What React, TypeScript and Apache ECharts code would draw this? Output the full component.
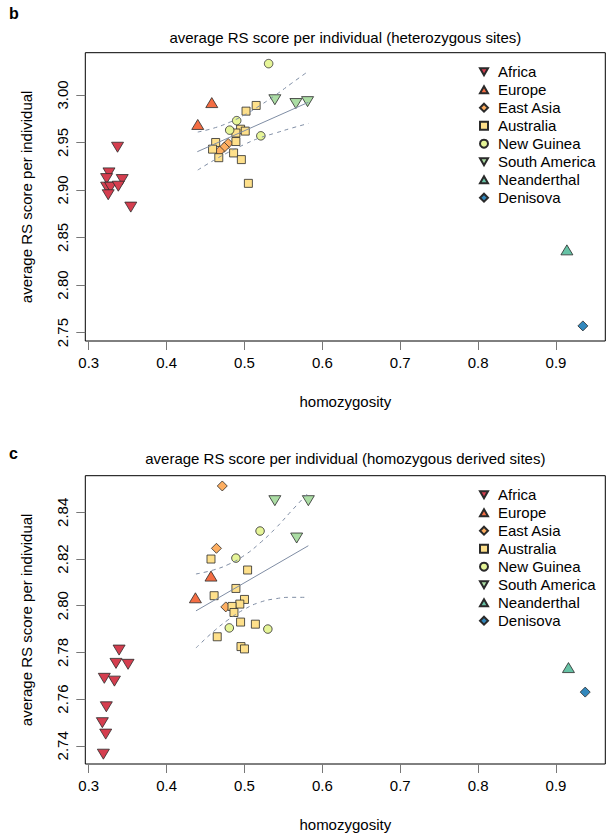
import React, { useEffect, useRef } from 'react';
import * as echarts from 'echarts';

// ---------- data ----------
const groups = ['Africa', 'Europe', 'East Asia', 'Australia', 'New Guinea', 'South America', 'Neanderthal', 'Denisova'];
const xTicks = [0.3, 0.4, 0.5, 0.6, 0.7, 0.8, 0.9];
const hetYTicks = [2.75, 2.8, 2.85, 2.9, 2.95, 3.0];
const homYTicks = [2.74, 2.76, 2.78, 2.8, 2.82, 2.84];

// panel b: heterozygous sites  [homozygosity, average RS score]
const hetAfrica = [[0.337, 2.945], [0.326, 2.918], [0.323, 2.912], [0.343, 2.911], [0.323, 2.903], [0.328, 2.903], [0.338, 2.904], [0.325, 2.895], [0.354, 2.882]];
const hetEurope = [[0.458, 2.992], [0.44, 2.969]];
const hetEastAsia = [[0.479, 2.949], [0.474, 2.945], [0.468, 2.941]];
const hetAustralia = [[0.515, 2.989], [0.502, 2.983], [0.495, 2.964], [0.501, 2.962], [0.489, 2.96], [0.463, 2.95], [0.459, 2.943], [0.489, 2.951], [0.467, 2.934], [0.486, 2.939], [0.496, 2.932], [0.505, 2.907]];
const hetNewGuinea = [[0.531, 3.033], [0.49, 2.973], [0.481, 2.963], [0.521, 2.957]];
const hetSouthAmerica = [[0.539, 2.995], [0.566, 2.991], [0.581, 2.993]];
const hetNeanderthal = [[0.914, 2.837]];
const hetDenisova = [[0.9345, 2.757]];
const hetFit = [[0.4394, 2.9403], [0.582, 2.9923]];
const hetUpper = [[0.44, 2.961], [0.46, 2.965], [0.48, 2.971], [0.5, 2.979], [0.52, 2.989], [0.54, 3.0], [0.56, 3.012], [0.582, 3.025]];
const hetLower = [[0.44, 2.921], [0.46, 2.931], [0.48, 2.94], [0.5, 2.948], [0.52, 2.955], [0.54, 2.96], [0.56, 2.965], [0.582, 2.97]];

// panel c: homozygous derived sites
const homAfrica = [[0.339, 2.781], [0.335, 2.7753], [0.3505, 2.7749], [0.32, 2.7689], [0.333, 2.7677], [0.3226, 2.7567], [0.3175, 2.7499], [0.3218, 2.745], [0.3188, 2.7364]];
const homEurope = [[0.457, 2.8127], [0.437, 2.8034]];
const homEastAsia = [[0.4715, 2.8513], [0.464, 2.8246], [0.476, 2.7995]];
const homAustralia = [[0.457, 2.82], [0.504, 2.8153], [0.489, 2.8074], [0.461, 2.8043], [0.5, 2.8027], [0.494, 2.8007], [0.484, 2.7997], [0.4865, 2.7971], [0.495, 2.793], [0.514, 2.7921], [0.465, 2.7867], [0.4955, 2.7825], [0.5, 2.7815]];
const homNewGuinea = [[0.52, 2.832], [0.489, 2.8204], [0.4805, 2.7905], [0.53, 2.79]];
const homSouthAmerica = [[0.539, 2.845], [0.582, 2.845], [0.567, 2.829]];
const homNeanderthal = [[0.916, 2.7735]];
const homDenisova = [[0.9375, 2.763]];
const homFit = [[0.4377, 2.7978], [0.582, 2.8257]];
const homUpper = [[0.4377, 2.8136], [0.46, 2.8153], [0.48, 2.8178], [0.5, 2.8216], [0.52, 2.8269], [0.54, 2.8332], [0.56, 2.8405], [0.582, 2.8484]];
const homLower = [[0.4377, 2.7819], [0.46, 2.7889], [0.48, 2.7942], [0.5, 2.7985], [0.52, 2.8015], [0.54, 2.803], [0.56, 2.8036], [0.582, 2.8036]];

const hetSets = [hetAfrica, hetEurope, hetEastAsia, hetAustralia, hetNewGuinea, hetSouthAmerica, hetNeanderthal, hetDenisova];
const homSets = [homAfrica, homEurope, homEastAsia, homAustralia, homNewGuinea, homSouthAmerica, homNeanderthal, homDenisova];

// ---------- styles ----------
const colors = ['#D53E4F', '#F46D43', '#FDAE61', '#FEE08B', '#E6F598', '#ABDDA4', '#66C2A5', '#3288BD'];
const DOWN = 'path://M0,0 L20,0 L10,17.32 Z';
const UP = 'path://M10,0 L20,17.32 L0,17.32 Z';
const symbols = [DOWN, UP, 'diamond', 'rect', 'circle', DOWN, UP, 'diamond'];
const sizes: any[] = [[12, 10], [12, 10], [10, 10], [8, 8], [8.5, 8.5], [12, 10], [12, 10], [10, 10]];
const FONT = '"Liberation Sans", Arial, Helvetica, sans-serif';
const lineColor = '#7f8da4';

const GL = 85.3, GW = 520, GH = 288.3;
const TOP1 = 52.7, TOP2 = 475.7;

export default function App() {
  const ref = useRef<HTMLDivElement>(null);
  useEffect(() => {
    if (!ref.current) return;
    const chart = echarts.init(ref.current, undefined, { renderer: 'svg' });

    const xAxis = (gi: number) => ({
      type: 'value', gridIndex: gi, min: 0.2956, max: 0.9633,
      axisLine: { show: false },
      axisTick: { show: true, length: 9, customValues: xTicks, lineStyle: { color: '#777', width: 1 } },
      axisLabel: { customValues: xTicks, fontSize: 15, color: '#000', fontFamily: FONT, margin: 14, formatter: (v: number) => v.toFixed(1) },
      splitLine: { show: false },
    });
    const yAxis = (gi: number, min: number, max: number, ticks: number[]) => ({
      type: 'value', gridIndex: gi, min, max,
      axisLine: { show: false },
      axisTick: { show: true, length: 9, customValues: ticks, lineStyle: { color: '#777', width: 1 } },
      axisLabel: { customValues: ticks, rotate: 90, fontSize: 15, color: '#000', fontFamily: FONT, margin: 15, formatter: (v: number) => v.toFixed(2) },
      splitLine: { show: false },
    });

    const series: any[] = [];
    [hetSets, homSets].forEach((sets, gi) => {
      sets.forEach((d, i) => {
        series.push({
          type: 'scatter', name: groups[i], xAxisIndex: gi, yAxisIndex: gi, data: d,
          symbol: symbols[i], symbolSize: sizes[i],
          itemStyle: { color: colors[i], borderColor: '#2a2a2a', borderWidth: 0.8, opacity: 1 },
          z: 3,
        });
      });
      const fit = gi === 0 ? hetFit : homFit;
      const up = gi === 0 ? hetUpper : homUpper;
      const lo = gi === 0 ? hetLower : homLower;
      series.push({ type: 'line', xAxisIndex: gi, yAxisIndex: gi, data: fit, symbol: 'none', lineStyle: { color: lineColor, width: 1 }, z: 5 });
      [up, lo].forEach((b) => series.push({ type: 'line', xAxisIndex: gi, yAxisIndex: gi, data: b, smooth: true, symbol: 'none', lineStyle: { color: lineColor, width: 1, type: [4, 4] }, z: 5 }));
    });

    const legendIcons = [DOWN, UP, 'diamond', 'rect', 'circle', DOWN, UP, 'diamond'];
    const legend = (top: number) => ({
      orient: 'vertical', left: 479, top, padding: 0, itemWidth: 8, itemHeight: 8, itemGap: 0, selectedMode: false,
      textStyle: { fontSize: 15, color: '#000', fontFamily: FONT, lineHeight: 18, padding: [0, 0, 0, 5] },
      data: groups.map((g, i) => ({ name: g, icon: legendIcons[i] })),
    });

    const txt = (text: string, x: number, y: number, extra: any = {}) => ({
      type: 'text', x, y, rotation: extra.rotation || 0,
      style: { text, fontSize: extra.fontSize || 15, fontWeight: extra.fontWeight || 'normal', fontFamily: FONT, fill: '#000', align: extra.align || 'center', verticalAlign: 'middle' },
    });

    chart.setOption({
      animation: false,
      backgroundColor: '#fff',
      grid: [
        { left: GL, top: TOP1, width: GW, height: GH, show: true, borderColor: '#000', borderWidth: 1, backgroundColor: 'transparent' },
        { left: GL, top: TOP2, width: GW, height: GH, show: true, borderColor: '#000', borderWidth: 1, backgroundColor: 'transparent' },
      ],
      xAxis: [xAxis(0), xAxis(1)],
      yAxis: [yAxis(0, 2.7411, 3.0445, hetYTicks), yAxis(1, 2.7322, 2.8557, homYTicks)],
      legend: [legend(62.7), legend(485.7)],
      series,
      graphic: [
        txt('b', 9, 13, { fontWeight: 'bold', fontSize: 16, align: 'left' }),
        txt('average RS score per individual (heterozygous sites)', GL + GW / 2, 37),
        txt('average RS score per individual', 26, TOP1 + GH / 2, { rotation: Math.PI / 2 }),
        txt('homozygosity', GL + GW / 2, 401),
        txt('c', 9, 453, { fontWeight: 'bold', fontSize: 16, align: 'left' }),
        txt('average RS score per individual (homozygous derived sites)', GL + GW / 2, 458),
        txt('average RS score per individual', 26, TOP2 + GH / 2, { rotation: Math.PI / 2 }),
        txt('homozygosity', GL + GW / 2, 824),
      ],
    });
    return () => chart.dispose();
  }, []);
  return <div ref={ref} style={{ position: 'absolute', left: 0, top: 0, width: 608, height: 839 }} />;
}
